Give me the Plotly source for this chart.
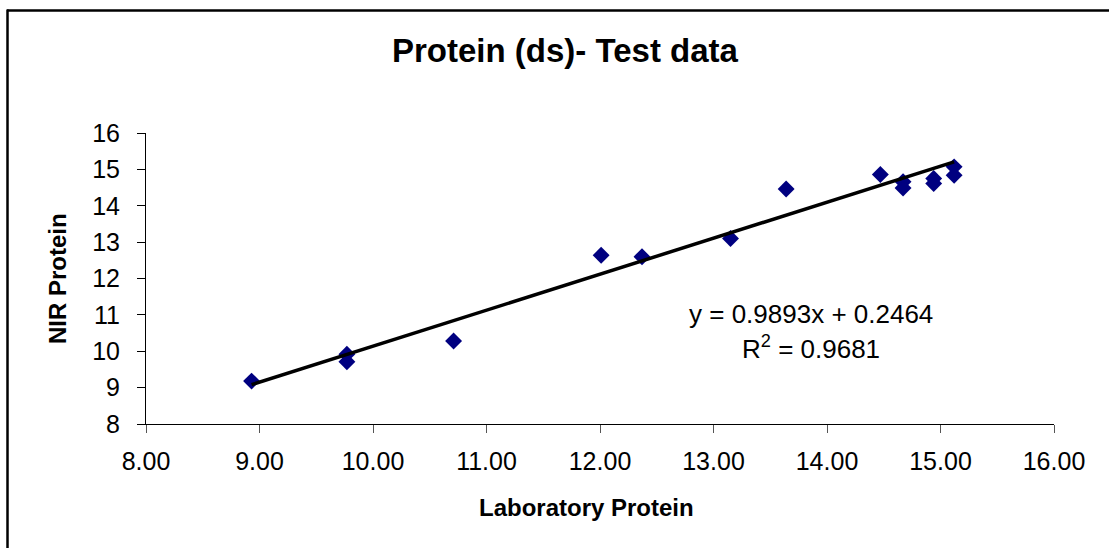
import plotly.graph_objects as go

# Data
lab_protein = [8.93, 9.77, 9.77, 10.71, 12.01, 12.37, 13.15, 13.64, 14.47, 14.67, 14.67, 14.94, 14.94, 15.12, 15.12]
nir_protein = [9.18, 9.92, 9.71, 10.28, 12.64, 12.60, 13.10, 14.46, 14.86, 14.66, 14.49, 14.75, 14.61, 15.07, 14.84]
slope = 0.9893
intercept = 0.2464
r_squared = 0.9681
x_ticks = [8, 9, 10, 11, 12, 13, 14, 15, 16]
y_ticks = [8, 9, 10, 11, 12, 13, 14, 15, 16]

W, H = 1109, 548
L, R, T, B = 146, 55, 133, 124
pw, ph = W - L - R, H - T - B

def px_x(p):
    return (p - L) / pw

def px_y(p):
    return (H - B - p) / ph

FONT = "Liberation Sans, Arial, sans-serif"

fig = go.Figure()
fig.add_trace(go.Scatter(
    x=lab_protein, y=nir_protein, mode="markers",
    marker=dict(symbol="diamond", size=13, color="#000080",
                line=dict(width=0)),
    showlegend=False, hoverinfo="x+y"))

xmin, xmax = min(lab_protein), max(lab_protein)
fig.add_trace(go.Scatter(
    x=[xmin, xmax], y=[slope * xmin + intercept, slope * xmax + intercept],
    mode="lines", line=dict(color="black", width=3.5),
    showlegend=False, hoverinfo="skip"))

fig.update_layout(
    width=W, height=H,
    margin=dict(l=L, r=R, t=T, b=B, autoexpand=False),
    paper_bgcolor="white", plot_bgcolor="white",
    font=dict(family=FONT, color="black"),
    xaxis=dict(range=[8, 16], tickvals=x_ticks,
               ticktext=[f"{v:.2f}" for v in x_ticks],
               showgrid=False, zeroline=False, showline=True,
               linecolor="black", linewidth=1, ticks="outside",
               ticklen=8, tickcolor="#555", tickwidth=1,
               tickfont=dict(size=25, family=FONT),
               ticklabelstandoff=7),
    yaxis=dict(range=[8, 16], tickvals=y_ticks,
               ticktext=[str(v) for v in y_ticks],
               showgrid=False, zeroline=False, showline=True,
               linecolor="black", linewidth=1, ticks="outside",
               ticklen=8, tickcolor="black", tickwidth=1,
               tickfont=dict(size=25, family=FONT),
               ticklabelstandoff=12),
)

annotations = [
    dict(text="<b>Protein (ds)- Test data</b>", x=px_x(565), y=px_y(51),
         font=dict(size=33, family=FONT)),
    dict(text="<b>Laboratory Protein</b>", x=px_x(586), y=px_y(508),
         font=dict(size=24, family=FONT)),
    dict(text="<b>NIR Protein</b>", x=px_x(57), y=px_y(279), textangle=-90,
         font=dict(size=24, family=FONT)),
    dict(text=f"y = {slope}x + {intercept}", x=px_x(811), y=px_y(314),
         font=dict(size=26, family=FONT)),
    dict(text=f"R<sup>2</sup> = {r_squared}", x=px_x(811), y=px_y(347),
         font=dict(size=26, family=FONT)),
]
for a in annotations:
    a.update(xref="paper", yref="paper", showarrow=False,
             xanchor="center", yanchor="middle")
    fig.add_annotation(**a)

# Outer chart frame (top and left edges visible)
fig.add_shape(type="line", xref="paper", yref="paper",
              x0=px_x(7), x1=px_x(1115), y0=px_y(10.5), y1=px_y(10.5),
              line=dict(color="black", width=2.5))
fig.add_shape(type="line", xref="paper", yref="paper",
              x0=px_x(7.5), x1=px_x(7.5), y0=px_y(9.5), y1=px_y(560),
              line=dict(color="black", width=2.5))

fig.write_html("out.html", config={"displayModeBar": False},
               post_script="document.body.style.margin='0';document.body.style.overflow='hidden';")
